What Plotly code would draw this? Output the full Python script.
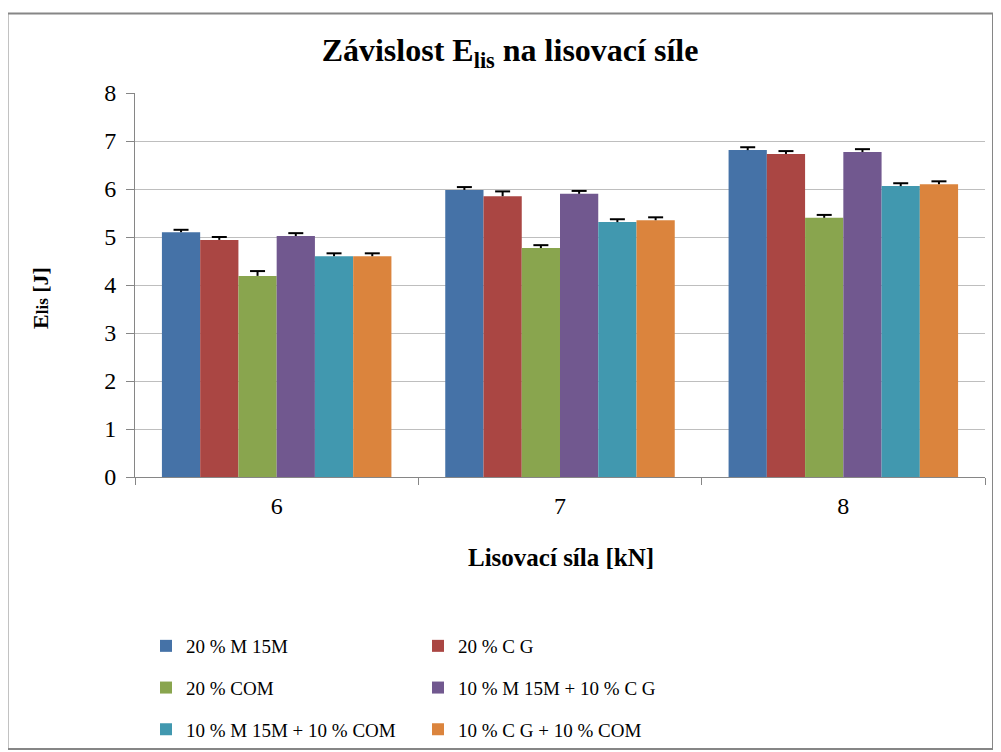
import plotly.graph_objects as go

categories = ["6", "7", "8"]
series_names = ["20 % M 15M", "20 % C G", "20 % COM",
                "10 % M 15M + 10 % C G", "10 % M 15M + 10 % COM", "10 % C G + 10 % COM"]
s1 = [5.10, 5.98, 6.81]
s2 = [4.94, 5.85, 6.73]
s3 = [4.19, 4.77, 5.40]
s4 = [5.02, 5.90, 6.77]
s5 = [4.60, 5.31, 6.06]
s6 = [4.60, 5.35, 6.10]
e1 = [0.05, 0.06, 0.06]
e2 = [0.06, 0.10, 0.06]
e3 = [0.10, 0.06, 0.06]
e4 = [0.06, 0.06, 0.06]
e5 = [0.06, 0.06, 0.06]
e6 = [0.06, 0.06, 0.06]
colors = ["#4572A7", "#AA4643", "#89A54E", "#71588F", "#4198AF", "#DB843D"]
y_ticks = [0, 1, 2, 3, 4, 5, 6, 7, 8]

values = [s1, s2, s3, s4, s5, s6]
errors = [e1, e2, e3, e4, e5, e6]
legends = ["legend", "legend2", "legend", "legend2", "legend", "legend2"]

FONT = "Liberation Serif, Times New Roman, serif"

# page offset (body margin) and figure geometry, in screen pixels
OFF = 8
W, H = 1001, 752
PL, PR, PT, PB = 135, 985, 93, 477          # plot area on screen
L, R, T, B = PL - OFF, W - (PR - OFF), PT - OFF, H - (PB - OFF)
pw, ph = PR - PL, PB - PT

def px(x):
    return (x - PL) / pw

def py(y):
    return (PB - y) / ph

# error-bar drawing styles (in axis units)
STEM_W = 2 / pw * 3        # category axis: 3 categories across plot width
CAP_W = 15 / pw * 3
CAP_T = 2 / ph * 8

fig = go.Figure()
for i in range(6):
    fig.add_trace(go.Bar(
        x=categories, y=values[i], name=series_names[i],
        marker=dict(color=colors[i], line=dict(width=0)),
        offsetgroup=str(i), legend=legends[i], legendgroup=f"g{i}",
    ))
for i in range(6):
    tops = [v + e for v, e in zip(values[i], errors[i])]
    fig.add_trace(go.Bar(
        x=categories, y=errors[i], base=values[i], width=STEM_W,
        marker=dict(color="black", line=dict(width=0)),
        offsetgroup=str(i), showlegend=False, hoverinfo="skip",
    ))
    fig.add_trace(go.Bar(
        x=categories, y=[CAP_T] * 3, base=[t - CAP_T / 2 for t in tops], width=CAP_W,
        marker=dict(color="black", line=dict(width=0)),
        offsetgroup=str(i), showlegend=False, hoverinfo="skip",
    ))

legend_common = dict(
    orientation="v", font=dict(family=FONT, size=19, color="black"),
    bgcolor="rgba(0,0,0,0)", borderwidth=0, tracegroupgap=14,
    xanchor="left", yanchor="top", itemclick=False,
)

fig.update_layout(
    width=W, height=H,
    margin=dict(l=L, r=R, t=T, b=B, autoexpand=False),
    paper_bgcolor="white", plot_bgcolor="white",
    font=dict(family=FONT, color="black"),
    title=dict(text="<b>Závislost E<sub>lis</sub> na lisovací síle</b>",
               x=(510 - OFF) / W, xref="container", xanchor="center",
               y=1 - (50 - OFF) / H, yref="container", yanchor="middle",
               font=dict(family=FONT, size=32, color="black")),
    barmode="group", bargap=0.19, bargroupgap=0,
    xaxis=dict(type="category", tickson="boundaries", ticks="outside", ticklen=7,
               tickcolor="#868686", showline=True, linecolor="#868686", linewidth=1,
               showgrid=False, tickfont=dict(family=FONT, size=24, color="black"),
               zeroline=False, ticklabelstandoff=7, automargin=False),
    yaxis=dict(range=[0, 8], tickvals=y_ticks, ticks="outside", ticklen=8,
               tickcolor="#868686", showline=True, linecolor="#868686", linewidth=1,
               showgrid=True, gridcolor="#BEBEBE", gridwidth=1, zeroline=False,
               tickfont=dict(family=FONT, size=24, color="black"),
               ticklabelstandoff=5, automargin=False),
    legend=dict(x=px(146), y=py(627), **legend_common),
    legend2=dict(x=px(418), y=py(627), **legend_common),
    showlegend=True,
    annotations=[
        dict(text="<b>Lisovací síla [kN]</b>", xref="paper", yref="paper",
             x=px(561), y=py(557), xanchor="center", yanchor="middle", showarrow=False,
             font=dict(family=FONT, size=25, color="black")),
        dict(text="<b>E<span style='font-size:17px'>lis</span> [J]</b>", xref="paper", yref="paper",
             x=px(40), y=py(298), xanchor="center", yanchor="middle", showarrow=False,
             textangle=-90, font=dict(family=FONT, size=22, color="black")),
    ],
    shapes=[
        dict(type="rect", xref="paper", yref="paper",
             x0=px(7.5), x1=px(993), y0=py(749), y1=py(13.5),
             line=dict(color="#868686", width=2), fillcolor="rgba(0,0,0,0)", layer="below"),
    ],
)

fig.write_html("out.html")
